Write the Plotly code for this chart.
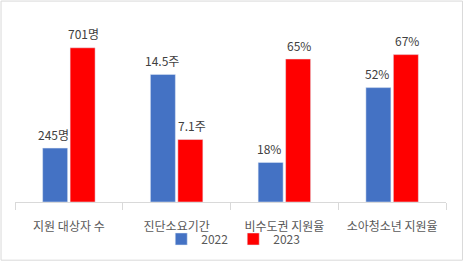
import plotly.graph_objects as go

categories = ["지원 대상자 수", "진단소요기간", "비수도권 지원율", "소아청소년 지원율"]
values_2022 = [245, 14.5, 18, 52]
values_2023 = [701, 7.1, 65, 67]
units = ["명", "주", "%", "%"]
display_scale = [0.1, 4, 1, 1]  # per-category scaling used in original chart

h2022 = [v * s for v, s in zip(values_2022, display_scale)]
h2023 = [v * s for v, s in zip(values_2023, display_scale)]

W, H = 463, 266
ml, mr, mt, mb = 14.5, 17, 26, 60
pw, ph = W - ml - mr, H - mt - mb

def px2x(p):
    return (p - ml) / pw

def px2y(p):
    return (H - mb - p) / ph

FONT = "Noto Sans CJK KR"

fig = go.Figure()
fig.add_bar(name="2022", x=categories, y=h2022, marker_color="#4472C4")
fig.add_bar(name="2023", x=categories, y=h2023, marker_color="#FF0000")

ann = []
for i, c in enumerate(categories):
    for hv, v, sh in ((h2022[i], values_2022[i], -15), (h2023[i], values_2023[i], 15)):
        ann.append(dict(x=c, y=hv, text=f"{v:g}{units[i]}", showarrow=False,
                        xshift=sh, yshift=14, yanchor="middle", xanchor="center",
                        font=dict(family=FONT, size=12, color="#404040")))

fig.update_layout(
    width=W, height=H,
    margin=dict(l=ml, r=mr, t=mt, b=mb, pad=0),
    paper_bgcolor="white", plot_bgcolor="white",
    barmode="group", bargap=0.49, bargroupgap=0.09,
    annotations=ann,
    showlegend=True,
    legend=dict(orientation="h", x=px2x(233), y=px2y(229), xanchor="center", yanchor="top",
                font=dict(family=FONT, size=12, color="#595959"),
                bgcolor="rgba(0,0,0,0)",
                itemwidth=30, tracegroupgap=0),
    font=dict(family=FONT),
    shapes=[dict(type="rect", xref="paper", yref="paper",
                 x0=px2x(0.5), x1=px2x(462.5), y0=px2y(265.5), y1=px2y(0.5),
                 line=dict(color="#D9D9D9", width=1), layer="below")],
)
fig.update_xaxes(showline=True, linecolor="#D9D9D9", linewidth=1, ticks="outside",
                 tickson="boundaries", ticklen=7, tickcolor="#D9D9D9",
                 ticklabelstandoff=14, tickangle=0,
                 tickfont=dict(family=FONT, size=12, color="#595959"), showgrid=False)
fig.update_yaxes(range=[0, 80], visible=False, showgrid=False)

fig.write_html("out.html")
